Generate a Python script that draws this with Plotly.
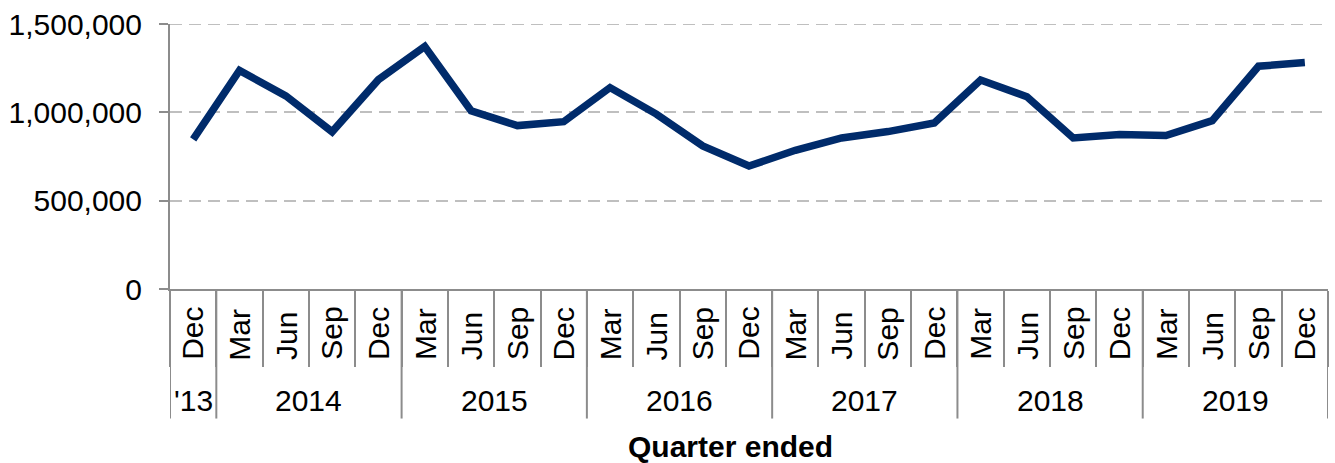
import plotly.graph_objects as go

quarters = ["Dec", "Mar", "Jun", "Sep", "Dec", "Mar", "Jun", "Sep", "Dec",
            "Mar", "Jun", "Sep", "Dec", "Mar", "Jun", "Sep", "Dec",
            "Mar", "Jun", "Sep", "Dec", "Mar", "Jun", "Sep", "Dec"]
years = ["'13", "2014", "2014", "2014", "2014", "2015", "2015", "2015", "2015",
         "2016", "2016", "2016", "2016", "2017", "2017", "2017", "2017",
         "2018", "2018", "2018", "2018", "2019", "2019", "2019", "2019"]
values = [847000, 1237000, 1093000, 890000, 1185000, 1373000, 1009000, 925000, 947000,
          1140000, 990000, 810000, 696000, 785000, 855000, 891000, 940000,
          1183000, 1088000, 855000, 875000, 869000, 953000, 1261000, 1282000]
y_ticks = [0, 500000, 1000000, 1500000]

FONT = "Liberation Sans, Arial, sans-serif"
AXIS_GREY = "#8C8C8C"
GRID_GREY = "#BFBFBF"
LINE_COLOR = "#002B6B"
FS = 30

W, H = 1335, 463
M_L, M_R, M_T, M_B = 170, 7, 21, 174
PH = H - M_T - M_B

def below(px):
    return -px / PH

idx = list(range(len(quarters)))

fig = go.Figure()
fig.add_trace(go.Scatter(
    x=idx, y=values, mode="lines",
    line=dict(color=LINE_COLOR, width=7.5),
    hoverinfo="skip", showlegend=False,
))

shapes = []
annotations = []

# top gridline (plotly drops a gridline lying on the range edge)
shapes.append(dict(
    type="line", xref="paper", yref="y", x0=0, x1=1, y0=y_ticks[-1], y1=y_ticks[-1],
    line=dict(color=GRID_GREY, width=2, dash="12px,7px"), layer="below",
))

# year group boundaries and labels
groups = []
start = 0
for i in range(1, len(years) + 1):
    if i == len(years) or years[i] != years[start]:
        groups.append((years[start], start, i - 1))
        start = i
for name, a, b in groups:
    annotations.append(dict(
        x=(a + b) / 2, y=below(113), xref="x", yref="paper",
        text=name, showarrow=False, xanchor="center", yanchor="middle",
        font=dict(family=FONT, size=FS, color="#000000"),
    ))
bounds = sorted(set([g[1] - 0.5 for g in groups] + [groups[-1][2] + 0.5]))
for bx in bounds:
    shapes.append(dict(
        type="line", xref="x", yref="paper", x0=bx, x1=bx, y0=0, y1=below(131),
        line=dict(color=AXIS_GREY, width=2),
    ))

# quarter labels (rotated, bottom-aligned)
for i, q in zip(idx, quarters):
    annotations.append(dict(
        x=i, y=below(74), xref="x", yref="paper",
        text=q, showarrow=False, textangle=-90,
        xanchor="center", yanchor="bottom",
        font=dict(family=FONT, size=FS, color="#000000"),
    ))

annotations.append(dict(
    x=(730 - M_L) / (W - M_L - M_R), y=below(159), xref="paper", yref="paper",
    text="<b>Quarter ended</b>", showarrow=False, xanchor="center", yanchor="middle",
    font=dict(family=FONT, size=FS, color="#000000"),
))

fig.update_layout(
    width=W, height=H,
    margin=dict(l=M_L, r=M_R, t=M_T, b=M_B),
    paper_bgcolor="white", plot_bgcolor="white",
    font=dict(family=FONT, size=FS, color="#000000"),
    shapes=shapes, annotations=annotations,
    showlegend=False,
)
fig.update_xaxes(
    type="linear", range=[-0.5, len(quarters) - 0.5],
    showgrid=False, zeroline=False,
    showline=True, linecolor=AXIS_GREY, linewidth=2,
    tickmode="array", tickvals=[i - 0.5 for i in idx] + [len(idx) - 0.5],
    ticks="outside", ticklen=76, tickwidth=2, tickcolor=AXIS_GREY,
    showticklabels=False,
)
fig.update_yaxes(
    range=[0, 1500000], tickvals=y_ticks, tickformat=",",
    showgrid=True, gridcolor=GRID_GREY, gridwidth=2, griddash="12px,7px",
    zeroline=False,
    showline=True, linecolor=AXIS_GREY, linewidth=2,
    ticks="outside", ticklen=9, tickwidth=2, tickcolor=AXIS_GREY,
    ticklabelstandoff=11,
    tickfont=dict(family=FONT, size=FS, color="#000000"),
)

fig.write_html("out.html", config={"displayModeBar": False},
               post_script="document.body.style.margin='0px';")
